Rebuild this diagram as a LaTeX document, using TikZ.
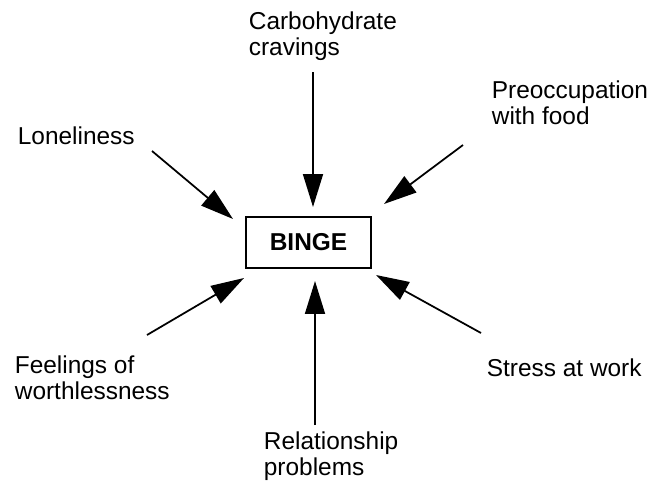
\documentclass[tikz,border=0pt]{standalone}
\usepackage{fontspec}
\setmainfont{Liberation Sans}
\usepackage{tikz}
\usetikzlibrary{arrows.meta}

\begin{document}
\begin{tikzpicture} [->, >={Triangle[length=0.66cm,width=0.4cm]},
            x=0.02cm, y=-0.02cm, line width=1pt,
            font=\fontsize{13.9pt}{15pt}\selectfont]

            \tikzstyle{cause} = [anchor=north west, inner sep=0pt, align=left]
            \tikzstyle{binge} = [rectangle, draw=black, line width=1.3pt, inner sep=0pt,
                                 minimum width=2.5cm, minimum height=1.02cm,
                                 font=\fontsize{13.9pt}{15pt}\selectfont\bfseries]

            \useasboundingbox (0,0) rectangle (652,480);

            \node[binge](binge) at(308.5, 242.5) {BINGE};
            \node[cause](carbs) at(248, 11) {Carbohydrate\\cravings};
            \node[cause](lonely) at(17, 126) {Loneliness};
            \node[cause](preocc) at(491, 80) {Preoccupation\\with food};
            \node[cause](worth) at(14, 355) {Feelings of\\worthlessness};
            \node[cause](relation) at(263, 431) {Relationship\\problems};
            \node[cause](stress) at(486, 358) {Stress at work};

            % arrow ends, tails near the labels and tips near the box
            \coordinate (carbs_t) at(313, 72);   \coordinate (carbs_h) at(313, 207);
            \coordinate (lonely_t) at(152, 151); \coordinate (lonely_h) at(233, 219);
            \coordinate (preocc_t) at(463, 145); \coordinate (preocc_h) at(384, 204);
            \coordinate (worth_t) at(147, 335);  \coordinate (worth_h) at(244, 278);
            \coordinate (relation_t) at(315, 425); \coordinate (relation_h) at(315, 281);
            \coordinate (stress_t) at(481, 333); \coordinate (stress_h) at(376, 275);

            \path (carbs_t) edge (carbs_h)
                (lonely_t) edge (lonely_h)
                (preocc_t) edge (preocc_h)
                (worth_t) edge (worth_h)
                (relation_t) edge (relation_h)
                (stress_t) edge (stress_h)
            ;
\end{tikzpicture}
\end{document}
